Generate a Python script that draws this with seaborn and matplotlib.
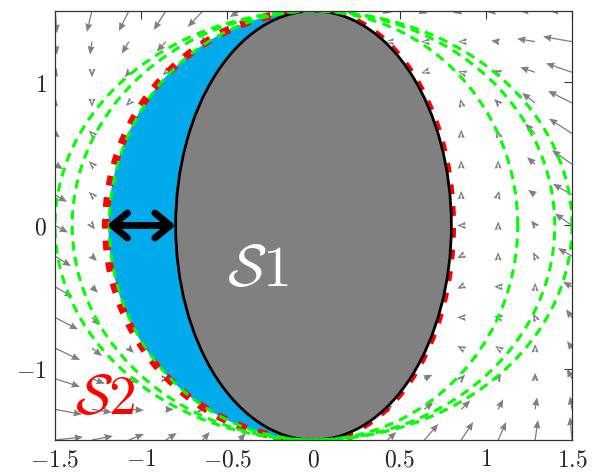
import numpy as np
import matplotlib
matplotlib.use("Agg")
import matplotlib.pyplot as plt
import seaborn as sns
from matplotlib.patches import Ellipse, FancyArrowPatch
from matplotlib.lines import Line2D

# ---------------- data ----------------
x_ticks = [-1.5, -1, -0.5, 0, 0.5, 1, 1.5]
y_ticks = [-1, 0, 1]

s1_a, s1_b = 0.8, 1.5          # shape S1 (grey ellipse)
s2_fill_a = 1.19               # S2 filled region, left semi-axis
s2_a_left = 1.205              # S2 dotted boundary: left half semi-axis
s2_a_right = 0.805             # S2 dotted boundary: right half semi-axis
green_a = [1.185, 1.4, 1.5]    # dashed green level curves
green_b = 1.5
gap_from, gap_to = -1.2, -0.8  # double arrow between S2 and S1

s1_label = r"$\mathcal{S}1$"
s2_label = r"$\mathcal{S}2$"
s1_label_pos = (-0.32, -0.31)
s2_label_pos = (-1.21, -1.21)

# vector field sampled on a 15 x 15 grid (rows: y from 1.5 down to -1.5)
grid_x = np.linspace(-1.5, 1.5, 15)
grid_y = np.linspace(1.5, -1.5, 15)

U = [
    [2, -5, -10, -12, -15, -10, -5, 0, -3, -5, -6, -8, -11, -15, -22],
    [2, -2, -7, -9, -3, 0, 0, 0, 0, -2, -3, -3, -7, -18, -29],
    [3, 0, -4, -3, 0, 0, 0, 0, 0, 0, -3, -3, -5, -15, -26],
    [3, 0, -3, 0, 0, 0, 0, 0, 0, 0, 0, -1, -4, -13, -24],
    [5, -3, 0, 0, 0, 0, 0, 0, 0, 0, 0, 0, -1, -10, -23],
    [8, -3, 0, 0, 0, 0, 0, 0, 0, 0, 0, 0, 0, -8, -20],
    [12, -3, 0, 0, 0, 0, 0, 0, 0, 0, 0, 0, 1, -7, -19],
    [13, 3, 0, 0, 0, 0, 0, 0, 0, 0, 0, -4, 0, -4, -17],
    [16, 5, 0, 0, 0, 0, 0, 0, 0, 0, 0, -4, 0, -2, -14],
    [18, 6, 0, 0, 0, 0, 0, 0, 0, 0, 0, -4, -4, 0, -9],
    [23, 8, 0, 0, 0, 0, 0, 0, 0, 0, 0, -4, -4, -2, -6],
    [25, 10, 5, 0, 0, 0, 0, 0, 0, 0, 0, -4, -3, 0, -5],
    [25, 13, 11, 4, 0, 0, 0, 0, 0, 0, 8, 4, 3, 0, -5],
    [27, 20, 15, 8, 3, 0, 0, 0, 0, 5, 9, 9, 5, 2, -2],
    [28, 21, 15, 11, 7, 6, 4, 0, 3, 9, 14, 12, 8, 3, -2],
]
V = [
    [-22, -21, -20, -19, -16, -6, -3, 0, -3, -3, -3, -2, -1, 0, 0],
    [-13, -13, -12, -10, -3, 0, 0, 0, 0, 0, 0, 0, 1, 3, 5],
    [-5, -5, -5, -3, 0, 0, 0, 0, 0, 0, -1, 1, 2, 5, 9],
    [-4, -4, -3, 0, 0, 0, 0, 0, 0, 0, 0, 4, 4, 10, 12],
    [-4, 3, 0, 0, 0, 0, 0, 0, 0, 0, 0, 4, 4, 10, 15],
    [-5, 3, 0, 0, 0, 0, 0, 0, 0, 0, 0, 4, 4, 7, 14],
    [-7, 3, 0, 0, 0, 0, 0, 0, 0, 0, 0, 4, 4, 5, 11],
    [-7, -4, 0, 0, 0, 0, 0, 0, 0, 0, 0, 0, 4, 5, 12],
    [-10, -5, 0, 0, 0, 0, 0, 0, 0, 0, 0, -2, 4, 4, 8],
    [-10, -6, 0, 0, 0, 0, 0, 0, 0, 0, 0, -2, 0, 4, 5],
    [-12, -8, 0, 0, 0, 0, 0, 0, 0, 0, 0, 0, 1, 4, 8],
    [-12, -8, -5, 0, 0, 0, 0, 0, 0, 0, 0, 2, 2, 4, 7],
    [-8, -5, -3, 0, 0, 0, 0, 0, 0, 0, 4, 4, 5, 6, 10],
    [-5, -3, -1, 0, 0, 0, 0, 0, 0, 4, 7, 9, 10, 12, 13],
    [3, 4, 6, 7, 8, 7, 5, 0, 3, 8, 16, 18, 18, 20, 23],
]

# ---------------- style ----------------
sns.set_theme(style="white")
plt.rcParams["mathtext.fontset"] = "cm"
plt.rcParams["font.family"] = ["DejaVu Serif"]

fig = plt.figure(figsize=(5.92, 4.74), dpi=100)
ax = fig.add_axes([55 / 592, 1 - 440 / 474, 517 / 592, 429 / 474])

# vector field
X, Y = np.meshgrid(grid_x, grid_y)
Ua = np.array(U, float)
Va = np.array(V, float)
m = (Ua != 0) | (Va != 0)
ax.quiver(X[m], Y[m], Ua[m], Va[m], angles="uv", scale_units="dots", scale=1,
          units="dots", width=1.3, headwidth=5.5, headlength=6.5,
          headaxislength=6.0, minshaft=0, minlength=0, color="#808080",
          zorder=1)

# S2 filled region (left part)
t_left = np.linspace(np.pi / 2, 3 * np.pi / 2, 300)
ax.fill(s2_fill_a * np.cos(t_left), s1_b * np.sin(t_left),
        facecolor="#00AAEB", edgecolor="none", zorder=2)

# S2 red dotted boundary
t_right = np.linspace(-np.pi / 2, np.pi / 2, 300)
red_x = np.concatenate([s2_a_left * np.cos(t_left),
                        s2_a_right * np.cos(t_right)])
red_y = np.concatenate([s1_b * np.sin(t_left), s1_b * np.sin(t_right)])
red_line = Line2D(red_x, red_y, color="#FF0000", linewidth=5.5,
                  dash_capstyle="butt", zorder=3)
red_line.set_dashes((7.0 / 5.5, 8.6 / 5.5))
ax.add_line(red_line)

# S1 grey ellipse
ax.add_patch(Ellipse((0, 0), 2 * s1_a, 2 * s1_b, facecolor="#808080",
                     edgecolor="black", lw=2, zorder=4))

# dashed green curves
t_full = np.linspace(0, 2 * np.pi, 500)
for a in green_a:
    sns.lineplot(x=a * np.cos(t_full), y=green_b * np.sin(t_full), sort=False,
                 estimator=None, ax=ax, color="#00FF00", zorder=5)
    ln = ax.lines[-1]
    ln.set_linewidth(2.2)
    ln.set_dashes((3.0, 2.1))

# double arrow showing the gap between S2 and S1
arr = FancyArrowPatch((gap_from, 0), (gap_to, 0),
                      arrowstyle="<->,head_length=0.55,head_width=0.45",
                      mutation_scale=20, lw=5, color="black",
                      shrinkA=0, shrinkB=0, capstyle="round",
                      joinstyle="round", zorder=6)
ax.add_patch(arr)

ax.text(*s1_label_pos, s1_label, color="white", fontsize=42,
        ha="center", va="center", zorder=7)
ax.text(*s2_label_pos, s2_label, color="#FF0000", fontsize=40,
        ha="center", va="center", zorder=7)

ax.set_xlim(-1.5, 1.5)
ax.set_ylim(-1.5, 1.5)
ax.set_xticks(x_ticks)
ax.set_yticks(y_ticks)
ax.set_xticklabels([f"${v:g}$" for v in x_ticks])
ax.set_yticklabels([f"${v:g}$" for v in y_ticks])
ax.tick_params(direction="in", length=6, width=0.8, color="#333333",
               top=True, right=True, labelsize=17, pad=6)
for s in ax.spines.values():
    s.set_color("#333333")
    s.set_linewidth(0.9)
    s.set_zorder(8)
ax.set_xlabel("")
ax.set_ylabel("")
if ax.get_legend():
    ax.get_legend().remove()

fig.savefig("out.png", dpi=100)
